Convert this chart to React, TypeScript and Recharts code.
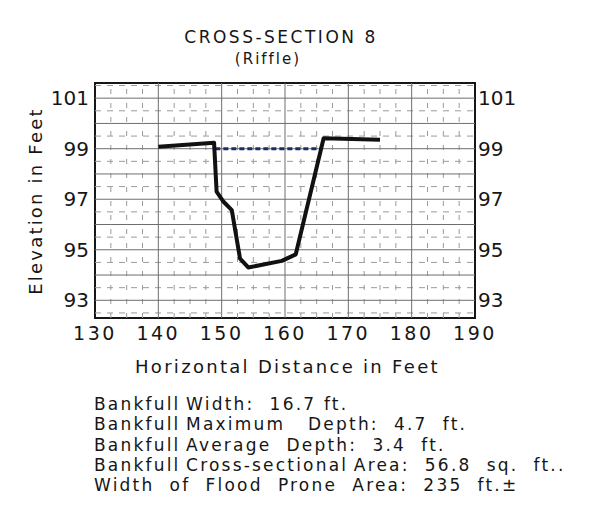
import { LineChart, Line, XAxis, YAxis, ReferenceLine, ReferenceArea } from "recharts";

// cross-section survey (horizontal distance ft, elevation ft)
const groundX = [140, 148.8, 149.2, 150.3, 151.6, 152.9, 154.2, 159.5, 161.7, 166.1, 175];
const groundY = [99.08, 99.24, 97.3, 96.9, 96.57, 94.65, 94.3, 94.56, 94.82, 99.41, 99.35];

const bankfullX = [149, 165.7];
const bankfullY = [99.0, 99.0];

const xTicks = [130, 140, 150, 160, 170, 180, 190];
const yTicks = [93, 95, 97, 99, 101];

const notes = [
  "Bankfull\u2009Width:  16.7 ft.",
  "Bankfull\u2009Maximum   Depth:  4.7  ft.",
  "Bankfull\u2009Average  Depth:  3.4  ft.",
  "Bankfull\u2009Cross-sectional\u2009Area:  56.8  sq.  ft..",
  "Width  of  Flood  Prone  Area:  235  ft.±",
];

const ground = groundX.map((x, i) => ({ x, y: groundY[i] }));
const bankfull = bankfullX.map((x, i) => ({ x, y: bankfullY[i] }));

// background grid: solid every 10 ft / 1 ft, dashed in between
const majorX = [140, 150, 160, 170, 180];
const minorX: number[] = [];
for (let v = 132.5; v < 190; v += 2.5) if (v % 10 !== 0) minorX.push(v);
const majorY: number[] = [];
for (let v = 93; v <= 101; v += 1) majorY.push(v);
const minorY: number[] = [];
for (let v = 92.5; v <= 101.5; v += 1) minorY.push(v);

const font = "'DejaVu Sans', sans-serif";
const tickStyle = { fontSize: 19, fill: "#161616", fontFamily: font, letterSpacing: 2.5 };
const yTickStyle = { fontSize: 20, fill: "#161616", fontFamily: font, letterSpacing: 0 };

export default function App() {
  return (
    <div style={{ position: "relative", width: 582, height: 502, fontFamily: font, color: "#161616" }}>
      <div style={{ position: "absolute", left: 123, top: 19, width: 300, textAlign: "center", fontSize: 17, letterSpacing: 2.5, whiteSpace: "nowrap" }}>
        CROSS-SECTION 8
      </div>
      <div style={{ position: "absolute", left: 200, top: 42, width: 120, textAlign: "center", fontSize: 15, letterSpacing: 2, whiteSpace: "nowrap" }}>
        (Riffle)
      </div>

      <LineChart width={582} height={370} margin={{ top: 75, right: 0, bottom: 0, left: 0 }}>
        <XAxis
          type="number"
          dataKey="x"
          domain={[130, 190]}
          ticks={xTicks}
          tickSize={0}
          tickMargin={9}
          axisLine={false}
          tick={tickStyle}
          height={60}
          allowDataOverflow
        />
        <YAxis
          yAxisId="left"
          type="number"
          dataKey="y"
          domain={[92.3, 101.6]}
          ticks={yTicks}
          tickSize={0}
          tickMargin={6}
          axisLine={false}
          tick={yTickStyle}
          width={87}
          allowDataOverflow
        />
        <YAxis
          yAxisId="right"
          orientation="right"
          type="number"
          domain={[92.3, 101.6]}
          ticks={yTicks}
          tickSize={0}
          tickMargin={3}
          axisLine={false}
          tick={{ ...yTickStyle, textAnchor: "start" }}
          width={115}
          allowDataOverflow
        />
        {minorY.map((v) => (
          <ReferenceLine key={"my" + v} yAxisId="left" y={v} stroke="#9a9a9a" strokeDasharray="6 6" />
        ))}
        {minorX.map((v) => (
          <ReferenceLine key={"mx" + v} yAxisId="left" x={v} stroke="#9a9a9a" strokeDasharray="5 9" />
        ))}
        {majorY.map((v) => (
          <ReferenceLine key={"y" + v} yAxisId="left" y={v} stroke="#6e6e6e" strokeWidth={1} />
        ))}
        {majorX.map((v) => (
          <ReferenceLine key={"x" + v} yAxisId="left" x={v} stroke="#6e6e6e" strokeWidth={1} />
        ))}
        <ReferenceArea
          yAxisId="left"
          x1={130}
          x2={190}
          y1={92.3}
          y2={101.6}
          fill="none"
          stroke="#161616"
          strokeWidth={2}
        />
        <Line
          yAxisId="left"
          data={bankfull}
          dataKey="y"
          type="linear"
          stroke="#1c2c6a"
          strokeWidth={3}
          strokeDasharray="5 3"
          dot={false}
          isAnimationActive={false}
        />
        <Line
          yAxisId="left"
          data={ground}
          dataKey="y"
          type="linear"
          stroke="#111"
          strokeWidth={4}
          strokeLinejoin="round"
          dot={false}
          isAnimationActive={false}
        />
      </LineChart>

      <div
        style={{
          position: "absolute",
          left: 27,
          top: 193,
          transform: "translate(-50%, -50%) rotate(-90deg)",
          whiteSpace: "nowrap",
          fontSize: 18,
          letterSpacing: 2.2,
        }}
      >
        Elevation in Feet
      </div>
      <div style={{ position: "absolute", left: 127, top: 348, width: 300, textAlign: "center", fontSize: 18, letterSpacing: 2.3, whiteSpace: "nowrap" }}>
        Horizontal Distance in Feet
      </div>

      <div style={{ position: "absolute", left: 86, top: 386, fontSize: 17, lineHeight: "20.3px", whiteSpace: "pre", letterSpacing: 2.2 }}>
        {notes.map((n) => (
          <div key={n}>{n}</div>
        ))}
      </div>
    </div>
  );
}
